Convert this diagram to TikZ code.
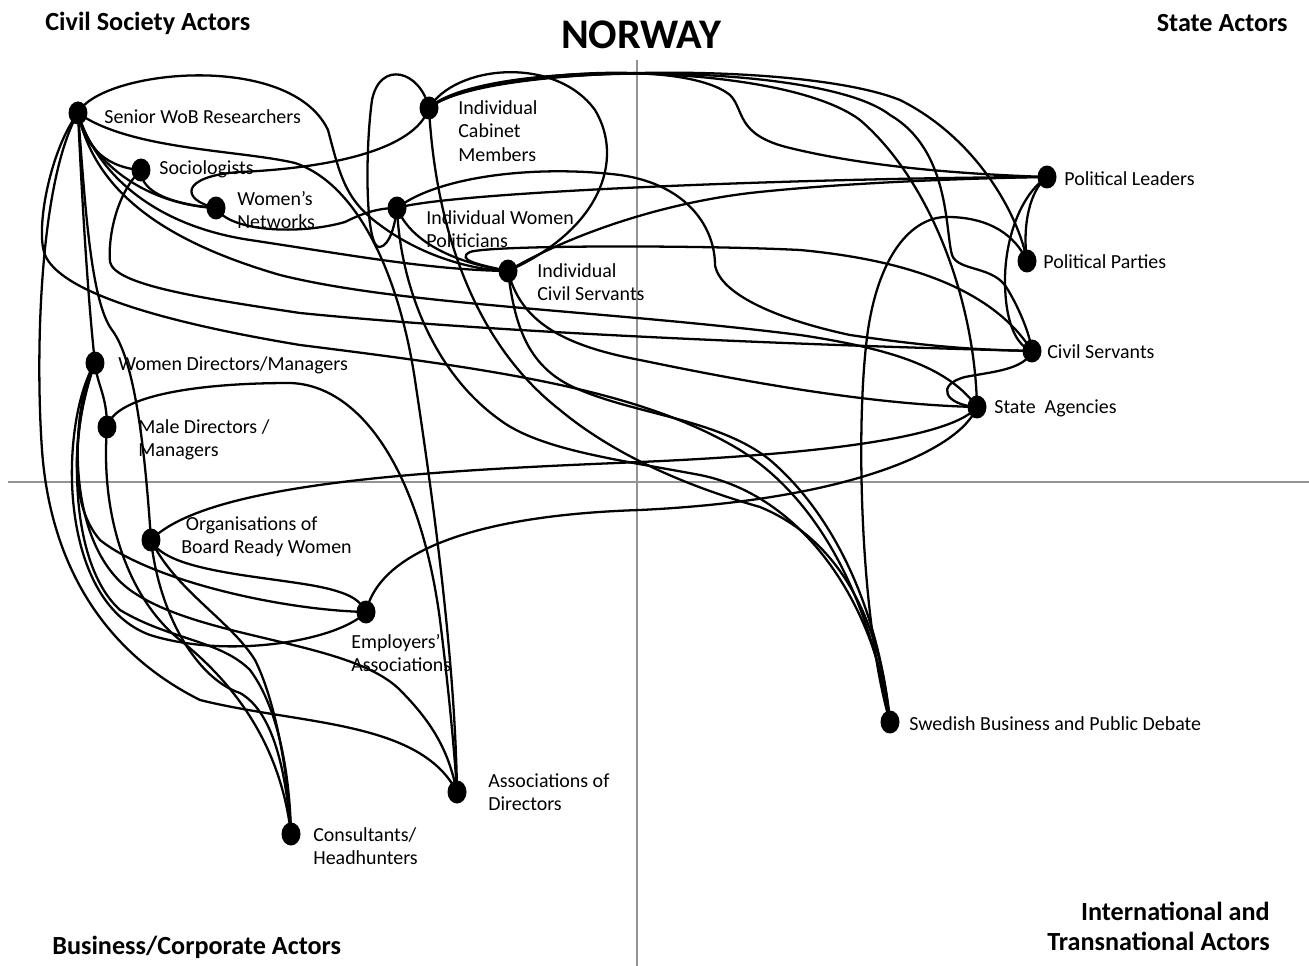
\documentclass[tikz,border=0pt]{standalone}
\usepackage{fontspec}
\setmainfont{Carlito}
\usetikzlibrary{shapes.geometric}
\begin{document}
\begin{tikzpicture}[x=0.02cm,y=-0.02cm,
  dot/.style={ellipse,fill=black,draw=none,minimum width=0.38cm,minimum height=0.46cm,inner sep=0pt},
  lab/.style={anchor=west,align=left,inner sep=0pt,font=\fontsize{11.35}{13.3}\selectfont},
  ttl/.style={inner sep=0pt,font=\fontsize{14.9}{17}\selectfont\bfseries},
  link/.style={line width=1.3pt,black},
  axis/.style={line width=1.2pt,black!42}]
\useasboundingbox (0,0) rectangle (1309,966);
% axes
\coordinate (vt) at (637,60);
\coordinate (vb) at (637,966);
\coordinate (hl) at (8,482);
\coordinate (hr) at (1309,482);
\draw[axis] (vt) -- (vb);
\draw[axis] (hl) -- (hr);
% titles
\node[ttl,anchor=west] (tcs) at (45,23) {Civil Society Actors};
\node[ttl,anchor=east] (tsa) at (1288,23) {State Actors};
\node[inner sep=0pt,font=\fontsize{24}{28}\selectfont\bfseries] (tno) at (641,35) {NORWAY};
\node[ttl,anchor=west] (tbc) at (52,947) {Business/Corporate Actors};
\node[ttl,anchor=east,align=right] (tit) at (1270,926) {International and\\Transnational Actors};
% dots
\node[dot] (sr) at (78,113) {};
\node[dot] (so) at (141,170) {};
\node[dot] (wn) at (216,208) {};
\node[dot] (cm) at (429,108) {};
\node[dot] (wp) at (397,208) {};
\node[dot] (ics) at (508,271) {};
\node[dot] (pl) at (1047,177) {};
\node[dot] (pp) at (1027,261) {};
\node[dot] (cs) at (1032,351) {};
\node[dot] (sa) at (977,407) {};
\node[dot] (wd) at (95,363) {};
\node[dot] (md) at (107,427) {};
\node[dot] (ob) at (151,540) {};
\node[dot] (ea) at (366,612) {};
\node[dot] (ad) at (457,792) {};
\node[dot] (ch) at (291,834) {};
\node[dot] (sw) at (890,722) {};
% labels
\node[lab] (lsr) at (104,117) {Senior WoB Researchers};
\node[lab] (lso) at (159,169) {Sociologists};
\node[lab] (lwn) at (237,210) {Women’s\\Networks};
\node[lab] (lcm) at (458,131) {Individual\\Cabinet\\Members};
\node[lab] (lwp) at (426,229) {Individual Women\\Politicians};
\node[lab] (lics) at (537,282) {Individual\\Civil Servants};
\node[lab] (lpl) at (1064,179) {Political Leaders};
\node[lab] (lpp) at (1043,262) {Political Parties};
\node[lab] (lcs) at (1047,352) {Civil Servants};
\node[lab] (lsa) at (994,408) {State\ \ Agencies};
\node[lab] (lwd) at (118,365) {Women Directors/Managers};
\node[lab] (lmd) at (138,440) {Male Directors /\\Managers};
\node[lab] (lob) at (181,537) {\ Organisations of\\Board Ready Women};
\node[lab] (lea) at (351,653) {Employers’\\Associations};
\node[lab] (lad) at (488,792) {Associations of\\Directors};
\node[lab] (lch) at (313,846) {Consultants/\\Headhunters};
\node[lab] (lsw) at (909,724) {Swedish Business and Public Debate};
% connectors: Senior WoB Researchers
\draw[link] (sr.center) .. controls (100,70) and (290,50) .. (328,130) .. controls (340,175) and (345,200) .. (380,225) .. controls (420,255) and (470,270) .. (ics.center);
\draw[link] (sr.center) .. controls (130,150) and (240,150) .. (295,163) .. controls (360,185) and (400,280) .. (415,380) .. controls (430,480) and (455,650) .. (ad.center);
\draw[link] (sr.center) .. controls (85,150) and (110,168) .. (so.center);
\draw[link] (sr.center) .. controls (90,165) and (150,205) .. (wn.center);
\draw[link] (sr.center) .. controls (95,170) and (150,225) .. (250,240) .. controls (350,255) and (430,270) .. (ics.center);
\draw[link] (sr.center) .. controls (95,190) and (160,240) .. (280,275) .. controls (400,305) and (600,310) .. (800,335) .. controls (900,350) and (950,370) .. (sa.center);
\draw[link] (sr.center) .. controls (50,150) and (35,230) .. (45,255) .. controls (60,290) and (150,320) .. (300,345) .. controls (500,370) and (640,390) .. (740,450) .. controls (820,500) and (870,600) .. (sw.center);
\draw[link] (sr.center) .. controls (40,180) and (35,350) .. (42,450) .. controls (50,560) and (100,650) .. (200,700) .. controls (300,725) and (420,720) .. (ad.center);
\draw[link] (sr.center) .. controls (82,200) and (88,300) .. (wd.center);
\draw[link] (sr.center) .. controls (85,200) and (90,300) .. (112,330) .. controls (135,360) and (145,450) .. (ob.center);
% Sociologists, Women's Networks
\draw[link] (so.center) .. controls (140,195) and (180,205) .. (wn.center);
\draw[link] (so.center) .. controls (115,195) and (108,240) .. (110,262) .. controls (115,285) and (200,298) .. (300,313) .. controls (500,333) and (800,345) .. (cs.center);
\draw[link] (wn.center) .. controls (230,232) and (300,235) .. (345,222) .. controls (365,212) and (380,208) .. (wp.center);
% Individual Cabinet Members
\draw[link] (cm.center) .. controls (415,150) and (330,168) .. (240,172) .. controls (180,176) and (180,200) .. (wn.center);
\draw[link] (cm.center) .. controls (420,70) and (380,60) .. (372,100) .. controls (365,150) and (365,250) .. (380,247) .. controls (390,245) and (395,225) .. (wp.center);
\draw[link] (cm.center) .. controls (455,65) and (555,55) .. (595,110) .. controls (625,160) and (600,230) .. (ics.center);
\draw[link] (cm.center) .. controls (435,220) and (470,340) .. (560,410) .. controls (620,460) and (700,490) .. (760,507) .. controls (840,540) and (880,620) .. (sw.center);
\draw[link] (cm.center) .. controls (470,75) and (680,55) .. (730,95) .. controls (745,110) and (735,135) .. (790,148) .. controls (880,170) and (990,175) .. (pl.center);
\draw[link] (cm.center) .. controls (480,65) and (800,60) .. (900,100) .. controls (980,140) and (1020,220) .. (pp.center);
\draw[link] (cm.center) .. controls (480,60) and (780,60) .. (860,120) .. controls (930,180) and (975,300) .. (sa.center);
\draw[link] (cm.center) .. controls (480,62) and (820,60) .. (890,115) .. controls (950,150) and (945,230) .. (952,255) .. controls (958,272) and (995,265) .. (1008,290) .. controls (1020,310) and (1030,335) .. (cs.center);
% Individual Women Politicians
\draw[link] (wp.center) .. controls (400,280) and (430,370) .. (500,420) .. controls (540,450) and (620,460) .. (700,475) .. controls (800,495) and (875,600) .. (sw.center);
\draw[link] (wp.center) .. controls (450,192) and (800,178) .. (pl.center);
\draw[link] (wp.center) .. controls (440,175) and (540,165) .. (620,175) .. controls (690,185) and (715,230) .. (715,265) .. controls (720,295) and (780,320) .. (850,335) .. controls (950,350) and (1000,350) .. (cs.center);
\draw[link] (wp.center) .. controls (410,240) and (450,262) .. (ics.center);
% Individual Civil Servants
\draw[link] (ics.center) .. controls (515,330) and (530,370) .. (580,390) .. controls (640,415) and (720,420) .. (770,460) .. controls (840,520) and (880,620) .. (sw.center);
\draw[link] (ics.center) .. controls (560,240) and (650,205) .. (750,193) .. controls (850,182) and (980,178) .. (pl.center);
\draw[link] (ics.center) .. controls (480,265) and (455,260) .. (470,252) .. controls (490,245) and (700,245) .. (800,250) .. controls (930,262) and (1000,300) .. (cs.center);
\draw[link] (ics.center) .. controls (520,320) and (560,345) .. (640,360) .. controls (760,385) and (880,405) .. (sa.center);
% Swedish debate, state actors
\draw[link] (sw.center) .. controls (860,620) and (855,420) .. (868,330) .. controls (880,250) and (915,215) .. (950,217) .. controls (990,218) and (1015,235) .. (pp.center);
\draw[link] (pl.center) .. controls (1030,190) and (1022,225) .. (pp.center);
\draw[link] (pl.center) .. controls (1020,195) and (1005,240) .. (1005,280) .. controls (1005,320) and (1015,345) .. (cs.center);
\draw[link] (cs.center) .. controls (1025,370) and (990,372) .. (965,377) .. controls (935,385) and (945,405) .. (sa.center);
\draw[link] (sa.center) .. controls (950,440) and (800,455) .. (640,462) .. controls (450,470) and (210,480) .. (ob.center);
\draw[link] (sa.center) .. controls (960,450) and (850,500) .. (640,510) .. controls (480,515) and (380,550) .. (ea.center);
% Business / corporate actors
\draw[link] (wd.center) .. controls (97,385) and (107,395) .. (md.center);
\draw[link] (md.center) .. controls (115,395) and (200,383) .. (290,383) .. controls (360,385) and (420,470) .. (440,620) .. controls (450,700) and (455,760) .. (ad.center);
\draw[link] (md.center) .. controls (100,520) and (130,600) .. (180,640) .. controls (230,680) and (280,740) .. (ch.center);
\draw[link] (ob.center) .. controls (160,620) and (200,680) .. (240,693) .. controls (270,710) and (285,760) .. (ch.center);
\draw[link] (ob.center) .. controls (175,590) and (230,620) .. (255,660) .. controls (275,700) and (288,770) .. (ch.center);
\draw[link] (wd.center) .. controls (70,420) and (65,560) .. (120,610) .. controls (170,640) and (220,640) .. (250,670) .. controls (280,710) and (290,780) .. (ch.center);
\draw[link] (wd.center) .. controls (75,420) and (65,500) .. (100,540) .. controls (150,580) and (280,610) .. (ea.center);
\draw[link] (wd.center) .. controls (60,420) and (55,600) .. (150,635) .. controls (230,660) and (340,640) .. (ea.center);
\draw[link] (wd.center) .. controls (72,400) and (62,540) .. (130,590) .. controls (200,640) and (350,640) .. (400,690) .. controls (440,730) and (450,760) .. (ad.center);
\draw[link] (ob.center) .. controls (165,570) and (250,575) .. (310,585) .. controls (350,592) and (360,600) .. (ea.center);
\end{tikzpicture}
\end{document}
